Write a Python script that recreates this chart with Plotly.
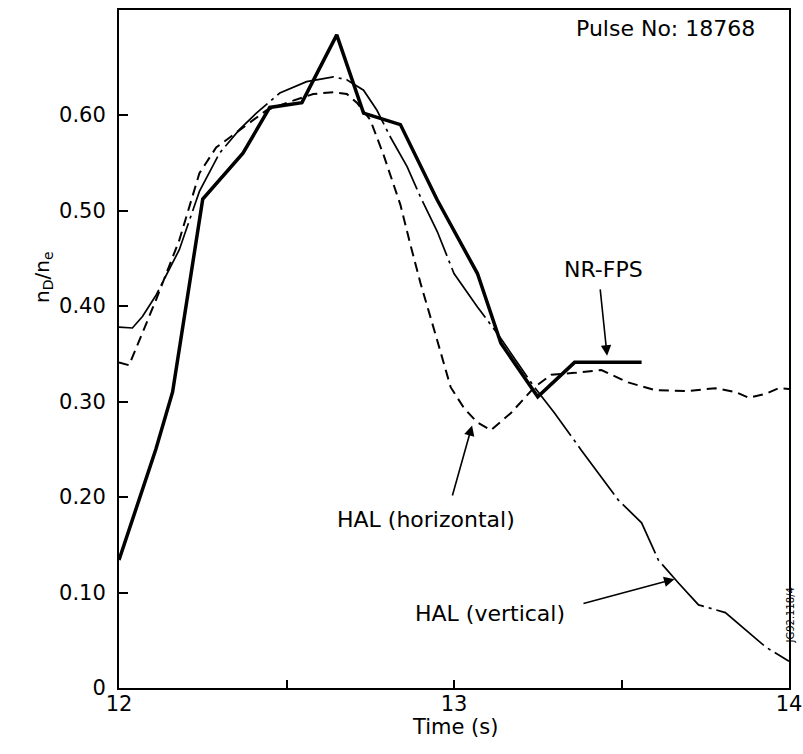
import plotly.graph_objects as go

# NR-FPS (thick solid)
nr_t = [12.0, 12.11, 12.16, 12.20, 12.25, 12.37, 12.45, 12.546, 12.65, 12.73, 12.84, 12.95, 13.07, 13.14, 13.25, 13.36, 13.56]
nr_v = [0.134, 0.25, 0.31, 0.40, 0.512, 0.56, 0.608, 0.613, 0.684, 0.602, 0.59, 0.511, 0.434, 0.361, 0.305, 0.341, 0.341]

# HAL (horizontal) dashed
hh_t = [12.0, 12.03, 12.07, 12.11, 12.18, 12.24, 12.29, 12.36, 12.44, 12.51, 12.58, 12.64, 12.68, 12.71, 12.75, 12.79,
        12.84, 12.87, 12.90, 12.95, 12.99, 13.03, 13.07, 13.11, 13.17, 13.24, 13.29, 13.36, 13.44, 13.52, 13.60, 13.70,
        13.78, 13.84, 13.88, 13.93, 13.97, 14.0]
hh_v = [0.341, 0.338, 0.372, 0.406, 0.469, 0.539, 0.566, 0.584, 0.605, 0.614, 0.622, 0.624, 0.622, 0.613, 0.595, 0.558,
        0.506, 0.464, 0.424, 0.364, 0.315, 0.293, 0.278, 0.27, 0.288, 0.315, 0.328, 0.33, 0.333, 0.32, 0.312, 0.311,
        0.314, 0.31, 0.304, 0.308, 0.314, 0.313]

# HAL (vertical) dash-dot
hv_t = [12.0, 12.04, 12.07, 12.11, 12.18, 12.24, 12.30, 12.36, 12.41, 12.48, 12.56, 12.64, 12.68, 12.73, 12.77, 12.81,
        12.86, 12.90, 12.95, 13.0, 13.07, 13.13, 13.24, 13.30, 13.38, 13.49, 13.56, 13.61, 13.67, 13.73, 13.81, 13.87,
        13.93, 14.0]
hv_v = [0.378, 0.377, 0.389, 0.411, 0.459, 0.52, 0.56, 0.585, 0.602, 0.623, 0.635, 0.64, 0.637, 0.626, 0.605, 0.577,
        0.546, 0.514, 0.478, 0.434, 0.399, 0.371, 0.315, 0.288, 0.249, 0.197, 0.173, 0.134, 0.11, 0.087, 0.079, 0.061,
        0.043, 0.028]

y_ticks = [0, 0.1, 0.2, 0.3, 0.4, 0.5, 0.6]
y_labels = ["0", "0.10", "0.20", "0.30", "0.40", "0.50", "0.60"]
x_ticks = [12, 13, 14]
x_labels = ["12", "13", "14"]
x_minor = [12.5, 13.5]

FONT = "DejaVu Sans"

fig = go.Figure()
fig.add_trace(go.Scatter(x=hh_t, y=hh_v, mode="lines",
                         line=dict(color="black", width=2, dash="10px,6px")))
fig.add_trace(go.Scatter(x=hv_t, y=hv_v, mode="lines",
                         line=dict(color="black", width=1.7, dash="60px,5px,3px,5px")))
fig.add_trace(go.Scatter(x=nr_t, y=nr_v, mode="lines",
                         line=dict(color="black", width=3.5)))

ann = []
def txt(x, y, s, size=22):
    ann.append(dict(x=x, y=y, xref="x", yref="y", text=s, showarrow=False,
                    font=dict(family=FONT, size=size, color="black")))

txt(13.63, 0.691, "Pulse No: 18768", 22)
txt(13.445, 0.438, "NR-FPS")
txt(12.916, 0.176, "HAL (horizontal)")
txt(13.107, 0.0785, "HAL (vertical)")

def arrow(tx, ty, hx, hy):
    ann.append(dict(x=hx, y=hy, ax=tx, ay=ty, xref="x", yref="y", axref="x", ayref="y",
                    text="", showarrow=True, arrowhead=2, arrowsize=1.3, arrowwidth=1.6,
                    arrowcolor="black"))

arrow(13.436, 0.419, 13.457, 0.348)
arrow(12.994, 0.200, 13.054, 0.275)
arrow(13.382, 0.088, 13.658, 0.114)

# pixel-positioned paper annotations
ann.append(dict(x=28, y=277, xref="paper", yref="paper", text="n<sub>D</sub>/n<sub>e</sub>",
                showarrow=False, textangle=-90,
                font=dict(family=FONT, size=20, color="black")))
ann.append(dict(x=455, y=741, xref="paper", yref="paper", text="Time (s)", showarrow=False,
                font=dict(family=FONT, size=21, color="black")))
ann.append(dict(x=797, y=645, xref="paper", yref="paper", text="JG92.118/4", showarrow=False,
                textangle=-90, font=dict(family=FONT, size=10, color="black")))

L, R, T, B = 119, 14, 10, 66
W, H = 803, 754
pw, ph = W - L - R, H - T - B
for a in ann[-3:]:
    a["x"] = (a["x"] - L) / pw
    a["y"] = (H - B - a["y"]) / ph

fig.update_layout(
    width=W, height=H,
    margin=dict(l=L, r=R, t=T, b=B, autoexpand=False),
    paper_bgcolor="white", plot_bgcolor="white",
    showlegend=False,
    annotations=ann,
    font=dict(family=FONT, size=21, color="black"),
    xaxis=dict(range=[12, 14], tickvals=x_ticks, ticktext=x_labels, ticks="inside",
               ticklen=8, tickwidth=2, tickcolor="black", showline=True, linecolor="black",
               linewidth=2, mirror=True, showgrid=False, zeroline=False, automargin=False,
               ticklabelstandoff=-4,
               minor=dict(tickvals=x_minor, ticks="inside", ticklen=8, tickwidth=2,
                          tickcolor="black", showgrid=False),
               tickfont=dict(family=FONT, size=21)),
    yaxis=dict(range=[0, 0.71], tickvals=y_ticks, ticktext=y_labels, ticks="inside",
               ticklen=9, tickwidth=2, tickcolor="black", showline=True, linecolor="black",
               linewidth=2, mirror=True, showgrid=False, zeroline=False, automargin=False,
               ticklabelstandoff=7,
               tickfont=dict(family=FONT, size=21)),
)

fig.write_html("out.html")
